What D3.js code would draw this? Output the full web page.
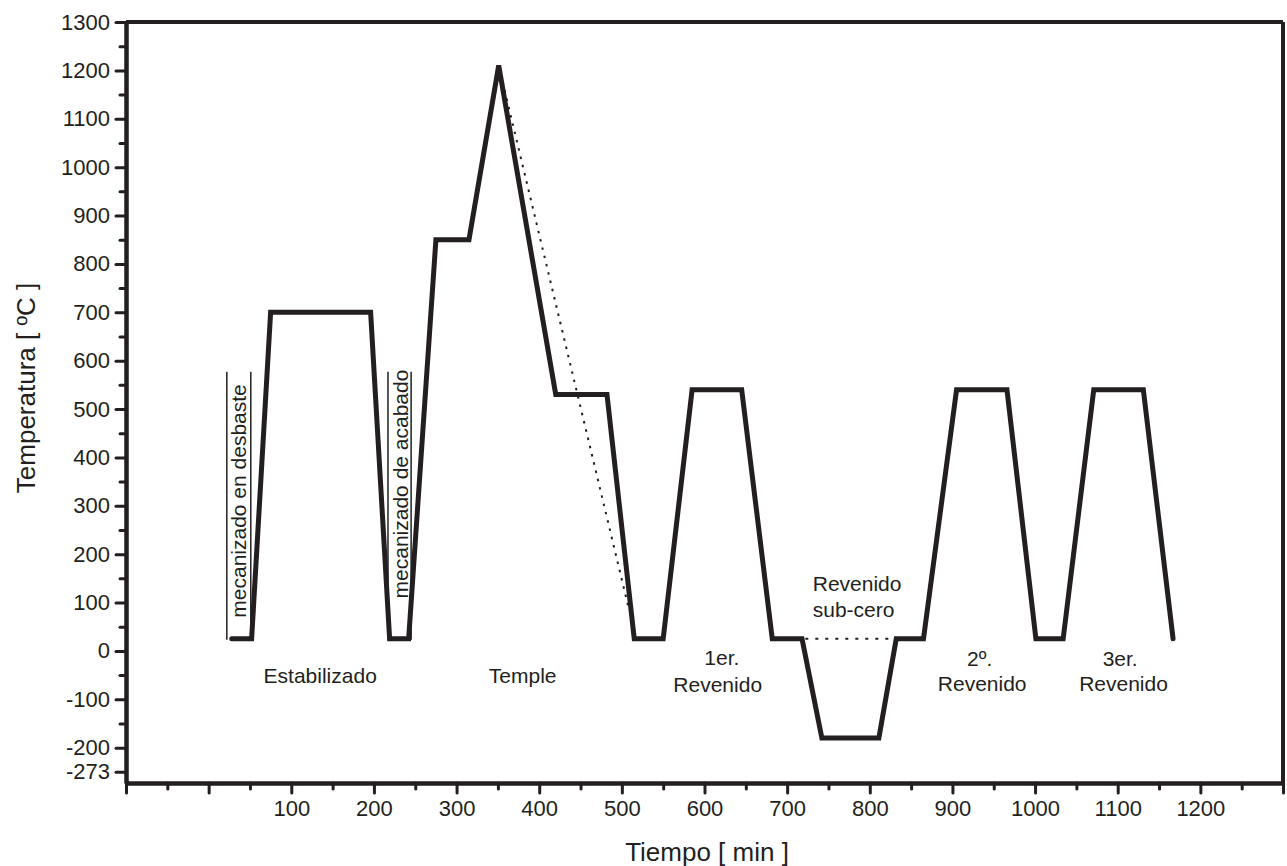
<!DOCTYPE html>
<html><head><meta charset="utf-8">
<script src="https://cdn.jsdelivr.net/npm/d3@7"></script>
<style>
body{margin:0;background:#fff}
svg{display:block}
text{font-family:"Liberation Sans",Arial,Helvetica,sans-serif;fill:#231f20}
</style>
</head><body>
<svg id="chart" width="1287" height="866"></svg>
<script>
// ---- data ----
const time = [28, 52, 75, 196, 219, 242, 275, 315, 351, 420, 482, 515, 550, 585, 645, 682, 718, 742, 811, 832, 865, 905, 966, 1001, 1034, 1071, 1131, 1167];
const temperature = [25, 25, 700, 700, 25, 25, 850, 850, 1210, 530, 530, 25, 25, 540, 540, 25, 25, -180, -180, 25, 25, 540, 540, 25, 25, 540, 540, 25];

const quenchRefTime = [351, 508];
const quenchRefTemp = [1210, 90];
const subZeroRefTime = [722, 829];
const subZeroRefTemp = [25, 25];

const roughMachiningTime = [22, 51];
const finishMachiningTime = [217, 245];
const machiningTempRange = [23, 577];

const xMajorTicks = [-100, 0, 100, 200, 300, 400, 500, 600, 700, 800, 900, 1000, 1100, 1200, 1300];
const xTickLabels = ["", "", "100", "200", "300", "400", "500", "600", "700", "800", "900", "1000", "1100", "1200", ""];
const xMinorTicks = [-50, 50, 150, 250, 350, 450, 550, 650, 750, 850, 950, 1050, 1150, 1250];

const yMajorTicks = [-250, -200, -100, 0, 100, 200, 300, 400, 500, 600, 700, 800, 900, 1000, 1100, 1200, 1300];
const yTickLabels = ["-273", "-200", "-100", "0", "100", "200", "300", "400", "500", "600", "700", "800", "900", "1000", "1100", "1200", "1300"];
const yMinorTicks = [-150, -50, 50, 150, 250, 350, 450, 550, 650, 750, 850, 950, 1050, 1150, 1250];

const labelTexts = ["Estabilizado", "Temple", "1er.", "Revenido", "Revenido", "sub-cero", "2º.", "Revenido", "3er.", "Revenido"];
const labelTime = [135, 380, 621, 616, 731, 731, 933, 936, 1103, 1107];
const labelTemp = [-66, -66, -29, -85, 124, 70, -31, -83, -31, -83];
const labelAnchor = ["middle", "middle", "middle", "middle", "start", "start", "middle", "middle", "middle", "middle"];

// ---- drawing ----
const ink = "#231f20";
const svg = d3.select("#chart");
const x = d3.scaleLinear().domain([-100, 1300]).range([126, 1283]);
const y = d3.scaleLinear().domain([-273, 1300]).range([783, 22]);

// frame top & right
svg.append("line").attr("x1", x(-100)).attr("x2", x(1300)).attr("y1", y(1300)).attr("y2", y(1300))
  .attr("stroke", ink).attr("stroke-width", 4);
svg.append("line").attr("x1", x(1300)).attr("x2", x(1300)).attr("y1", y(1300)).attr("y2", y(-273))
  .attr("stroke", ink).attr("stroke-width", 4);

function styleAxis(g, fontSize) {
  g.select(".domain").attr("stroke", ink).attr("stroke-width", 4);
  g.selectAll(".tick line").attr("stroke", ink).attr("stroke-width", 3).attr("stroke-linecap", "round");
  g.selectAll(".tick text").attr("fill", ink).style("font-size", fontSize + "px")
    .style("font-family", '"Liberation Sans",Arial,Helvetica,sans-serif');
}

// x axis
const xMinor = svg.append("g").attr("transform", `translate(0,${y(-273)})`)
  .call(d3.axisBottom(x).tickValues(xMinorTicks).tickSize(6).tickSizeOuter(0).tickFormat(""));
styleAxis(xMinor, 22);
const xAxis = svg.append("g").attr("transform", `translate(0,${y(-273)})`)
  .call(d3.axisBottom(x).tickValues(xMajorTicks).tickSize(10).tickSizeOuter(0).tickPadding(7)
    .tickFormat((d, i) => xTickLabels[i]));
styleAxis(xAxis, 22);

// y axis
const yMinor = svg.append("g").attr("transform", `translate(${x(-100)},0)`)
  .call(d3.axisLeft(y).tickValues(yMinorTicks).tickSize(6).tickSizeOuter(0).tickFormat(""));
styleAxis(yMinor, 22);
const yAxis = svg.append("g").attr("transform", `translate(${x(-100)},0)`)
  .call(d3.axisLeft(y).tickValues(yMajorTicks).tickSize(10).tickSizeOuter(0).tickPadding(6)
    .tickFormat((d, i) => yTickLabels[i]));
styleAxis(yAxis, 22);

// axis titles
svg.append("text").attr("x", 707).attr("y", 861).attr("text-anchor", "middle")
  .style("font-size", "26px").text("Tiempo [ min ]");
svg.append("text").attr("transform", "translate(35,388) rotate(-90)").attr("text-anchor", "middle")
  .style("font-size", "26px").text("Temperatura [ ºC ]");

// machining bracket lines
const bracketLines = [roughMachiningTime[0], roughMachiningTime[1], finishMachiningTime[0], finishMachiningTime[1]];
bracketLines.forEach(t => {
  svg.append("line").attr("x1", x(t)).attr("x2", x(t))
    .attr("y1", y(machiningTempRange[1])).attr("y2", y(machiningTempRange[0]))
    .attr("stroke", ink).attr("stroke-width", 1.5);
});
svg.append("text")
  .attr("transform", `translate(${(x(roughMachiningTime[0]) + x(roughMachiningTime[1])) / 2 + 7},${y(310)}) rotate(-90)`)
  .attr("text-anchor", "middle").style("font-size", "21px").text("mecanizado en desbaste");
svg.append("text")
  .attr("transform", `translate(${(x(finishMachiningTime[0]) + x(finishMachiningTime[1])) / 2 + 8.5},${y(345)}) rotate(-90)`)
  .attr("text-anchor", "middle").style("font-size", "21px").text("mecanizado de acabado");

// dotted reference lines
const line = d3.line().x(d => x(d[0])).y(d => y(d[1]));
svg.append("path").attr("d", line(d3.zip(quenchRefTime, quenchRefTemp)))
  .attr("fill", "none").attr("stroke", ink).attr("stroke-width", 2).attr("stroke-dasharray", "2.5,6");
svg.append("path").attr("d", line(d3.zip(subZeroRefTime, subZeroRefTemp)))
  .attr("fill", "none").attr("stroke", ink).attr("stroke-width", 2).attr("stroke-dasharray", "3,7");

// main thermal cycle
svg.append("path").attr("d", line(d3.zip(time, temperature)))
  .attr("fill", "none").attr("stroke", ink).attr("stroke-width", 5)
  .attr("stroke-linejoin", "miter").attr("stroke-linecap", "round");

// phase labels
labelTexts.forEach((txt, i) => {
  svg.append("text").attr("x", x(labelTime[i])).attr("y", y(labelTemp[i]))
    .attr("text-anchor", labelAnchor[i]).style("font-size", "21px").text(txt);
});
</script>
</body></html>
